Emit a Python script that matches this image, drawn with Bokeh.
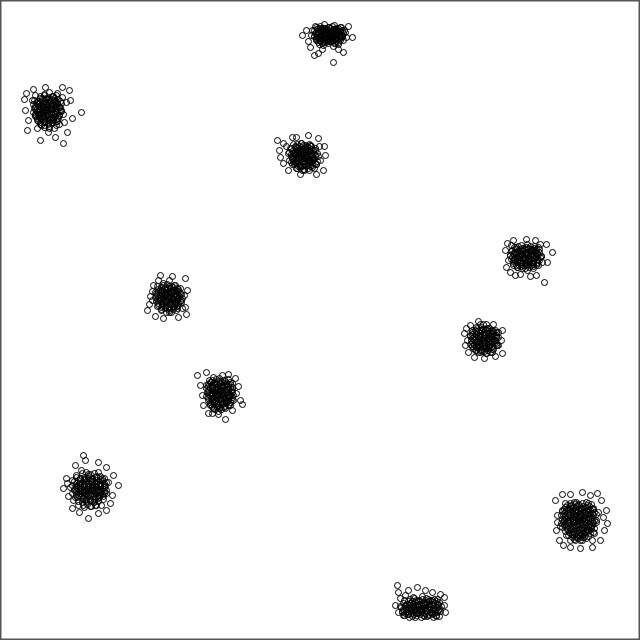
from bokeh.plotting import figure
from bokeh.models import Range1d, ColumnDataSource
from bokeh.embed import file_html
from bokeh.resources import INLINE

# Points (x right, y downward in picture units 0..640)
# --- spread points of each cluster ---
c1_x = [312,315,318,320,322,324,325,327,329,330,332,334,335,337,339,341,343,345,316,319,323,328,333,338,342,326,321,331,336,340,314,317,326,329,333,344,346,311,323,335,
        302,308,352,343,333,314,318,306,348,322,310,338]
c1_y = [30,26,33,28,38,24,31,36,27,41,33,25,38,30,35,27,40,32,40,44,45,43,46,44,36,29,34,37,34,31,36,37,40,32,29,30,37,35,42,43,
        35,41,37,52,62,55,53,30,26,49,47,49]

c2_x = [32,35,38,40,42,44,45,47,48,50,52,53,55,57,58,60,62,63,35,38,41,44,49,54,59,64,46,51,43,56,39,34,61,66,49,57,45,53,37,48,
        81,63,24,27,40,45,62,25,28,70,72,67,33,55,26,69]
c2_y = [100,95,104,98,110,94,104,115,99,108,120,96,112,103,118,107,97,114,115,121,125,118,126,128,124,122,110,113,103,106,112,108,110,102,92,93,122,104,128,132,
        112,143,99,130,140,87,87,110,120,100,118,132,89,137,93,90]

c3_x = [290,293,295,297,299,301,302,303,305,306,308,310,311,313,315,316,318,292,294,297,300,304,309,314,319,288,298,304,307,312,296,300,309,286,320,
        277,308,323,300,280,283,296,318,325,283,288,316,292,324,279]
c3_y = [148,144,152,147,158,143,152,162,148,156,165,145,153,160,150,164,156,158,164,168,166,170,170,168,146,153,153,157,151,157,160,149,161,146,160,
        140,135,170,174,157,143,137,138,155,163,170,174,137,146,150]

c4_x = [510,512,514,516,518,520,521,523,525,526,528,530,532,534,535,537,539,541,513,517,522,527,533,538,542,519,524,529,531,515,536,508,511,540,527,
        552,544,536,507,513,505,506,510,520,530,546,547,526,535,515]
c4_y = [255,250,260,247,254,262,245,251,258,265,248,255,262,246,252,259,249,256,265,267,268,270,268,265,262,257,254,259,250,253,255,260,245,244,244,
        252,282,275,243,240,250,267,272,274,276,244,262,239,240,275]

c5_x = [155,157,159,160,162,163,165,166,168,169,171,172,174,175,177,178,180,181,157,161,166,171,176,182,158,164,170,173,167,160,176,152,184,169,
        147,160,185,185,150,153,172,187,149,155,163,178,186,152]
c5_y = [292,286,298,290,304,283,295,301,288,307,293,299,285,304,291,298,288,302,306,310,312,312,310,308,280,292,296,290,298,296,296,300,295,280,
        310,275,278,307,296,285,276,290,304,316,318,317,314,291]

c6_x = [470,472,474,476,478,479,481,482,484,485,487,488,490,491,493,494,496,472,475,480,486,492,497,483,477,489,480,486,467,498,
        502,478,464,465,468,474,484,495,501,502,493,470,466]
c6_y = [335,330,340,327,336,345,330,339,334,348,328,342,335,347,331,340,337,346,350,352,353,352,345,343,341,338,324,324,340,332,
        353,321,333,345,352,357,358,356,340,330,324,325,328]

c7_x = [206,208,209,211,212,214,215,216,218,219,220,222,223,225,226,227,229,230,232,210,214,219,224,229,233,217,221,212,227,213,222,
        197,225,240,212,200,202,203,208,218,232,236,238,235,228,206,242]
c7_y = [385,392,380,398,388,383,395,404,389,378,399,385,393,381,402,389,396,384,392,405,409,408,407,404,400,393,391,394,395,377,375,
        375,419,400,413,385,395,405,413,414,410,393,386,378,374,372,404]

c8_x = [72,74,76,77,79,81,82,84,85,87,88,90,91,93,94,96,97,99,100,102,103,105,106,73,78,84,90,96,101,86,92,80,98,70,108,
        88,83,85,118,63,98,66,68,72,79,98,106,112,113,106,75,67,110]
c8_y = [480,490,475,497,484,470,492,480,500,487,474,494,481,502,489,476,496,484,491,478,499,486,493,500,505,507,506,505,505,490,486,488,490,487,482,
        518,455,460,485,488,462,478,496,508,512,513,510,495,475,467,465,483,503]

c9_x = [562,564,565,567,569,570,572,573,575,576,578,579,581,582,584,585,587,588,590,591,593,594,596,566,570,575,580,586,592,578,583,574,568,589,560,598,
        555,597,582,570,592,607,557,556,559,563,580,600,604,606,601,590,570,562,603,557]
c9_y = [510,520,503,528,515,506,534,522,511,502,527,517,508,537,521,512,530,503,518,526,509,533,520,535,540,540,540,538,540,520,524,516,522,514,526,512,
        500,493,492,547,547,523,515,530,540,545,548,540,530,510,500,495,494,494,517,522]

c10_x = [400,402,404,406,408,410,411,413,415,416,418,420,422,423,425,426,428,430,431,433,435,436,438,440,403,409,415,421,427,433,439,419,424,412,429,437,405,
         397,417,444,398,398,400,408,425,432,440,444,445,395]
c10_y = [606,612,600,608,614,603,610,597,606,613,601,609,596,615,604,611,599,607,613,602,609,615,604,611,615,617,617,617,616,617,616,605,608,606,604,599,595,
         585,587,597,612,592,598,590,590,592,594,605,612,605]

# --- dense core points of each cluster ---
k1_x = [316,320,324,328,332,336,340, 314,318,322,326,330,334,338,342, 315,319,323,327,331,335,339,343, 314,318,322,326,330,334,338,342, 316,320,324,328,332,336,340, 318,322,326,330,334,338, 317,321,325,329,333,337,341,323,327,335]
k1_y = [27,26,28,27,26,28,27, 30,31,30,29,31,30,31,30, 33,34,33,32,34,33,34,33, 36,37,36,35,37,36,37,36, 39,40,39,38,40,39,40, 42,43,42,41,43,42, 29,32,35,38,31,34,37,28,41,29]

k2_x = [40,44,48,52,56, 34,38,42,46,50,54,58, 33,37,41,45,49,53,57,61, 35,39,43,47,51,55,59, 33,37,41,45,49,53,57,61, 35,39,43,47,51,55,59, 37,41,45,49,53,57, 40,44,48,52,56, 47,43,51,38,55,49,44]
k2_y = [96,95,97,96,95, 100,101,100,99,101,100,99, 104,103,105,104,103,105,104,103, 108,109,108,107,109,108,107, 112,111,113,112,111,113,112,111, 116,117,116,115,117,116,115, 120,119,121,120,119,121, 124,125,124,123,125, 110,106,118,114,102,128,127]

k3_x = [297,301,305,309, 291,295,299,303,307,311,315, 289,293,297,301,305,309,313,317, 291,295,299,303,307,311,315, 289,293,297,301,305,309,313,317, 292,296,300,304,308,312,316, 296,300,304,308,312, 303,299,307,295,311,302]
k3_y = [144,143,145,144, 148,147,149,148,147,149,148, 152,153,152,151,153,152,151,153, 156,155,157,156,155,157,156, 160,161,160,159,161,160,159,161, 164,163,165,164,163,165,164, 168,167,169,168,167, 155,151,159,162,146,170]

k4_x = [514,518,522,526,530,534,538, 511,515,519,523,527,531,535,539, 510,514,518,522,526,530,534,538,541, 511,515,519,523,527,531,535,539, 513,517,521,525,529,533,537, 517,521,525,529,533, 524,520,528,532,516,536]
k4_y = [247,246,248,247,246,248,247, 251,252,251,250,252,251,250,252, 255,254,256,255,254,256,255,254,256, 259,260,259,258,260,259,258,260, 263,262,264,263,262,264,263, 267,266,268,267,266, 257,253,261,249,265,265]

k5_x = [163,167,171,175, 158,162,166,170,174,178, 156,160,164,168,172,176,180, 155,159,163,167,171,175,179,182, 156,160,164,168,172,176,180, 158,162,166,170,174,178, 161,165,169,173,177, 168,165,172,161,176,169]
k5_y = [285,284,286,285, 289,290,289,288,290,289, 293,292,294,293,292,294,293, 297,298,297,296,298,297,296,298, 301,300,302,301,300,302,301, 305,306,305,304,306,305, 309,308,310,309,308, 298,294,303,287,291,312]

k6_x = [477,481,485,489, 472,476,480,484,488,492,496, 470,474,478,482,486,490,494,498, 471,475,479,483,487,491,495, 470,474,478,482,486,490,494,498, 473,477,481,485,489,493, 478,482,486,490, 484,480,488,476,492,483]
k6_y = [328,327,329,328, 332,331,333,332,331,333,332, 336,337,336,335,337,336,335,337, 340,339,341,340,339,341,340, 344,345,344,343,345,344,343,345, 348,347,349,348,347,349, 352,351,353,352, 341,337,345,347,330,324]

k7_x = [212,216,220,224,228, 208,212,216,220,224,228,232, 206,210,214,218,222,226,230, 207,211,215,219,223,227,231, 206,210,214,218,222,226,230, 208,212,216,220,224,228,232, 210,214,218,222,226,230, 213,217,221,225, 219,215,223,211,227,218]
k7_y = [380,379,381,380,379, 384,385,384,383,385,384,383, 388,387,389,388,387,389,388, 392,393,392,391,393,392,391, 396,395,397,396,395,397,396, 400,401,400,399,401,400,399, 404,403,405,404,403,405, 408,407,409,408, 394,390,398,382,386,411]

k8_x = [82,86,90,94,98, 76,80,84,88,92,96,100,104, 74,78,82,86,90,94,98,102,106, 72,76,80,84,88,92,96,100,104, 74,78,82,86,90,94,98,102,106, 72,76,80,84,88,92,96,100,104, 75,79,83,87,91,95,99,103, 78,82,86,90,94,98, 83,87,91,95]
k8_y = [473,472,474,473,472, 477,478,477,476,478,477,476,478, 481,480,482,481,480,482,481,480,482, 485,486,485,484,486,485,484,486,485, 489,488,490,489,488,490,489,488,490, 493,494,493,492,494,493,492,494,493, 497,496,498,497,496,498,497,496, 501,502,501,500,502,501, 505,504,506,505]

k9_x = [570,574,578,582,586, 565,569,573,577,581,585,589,593, 562,566,570,574,578,582,586,590,594, 561,565,569,573,577,581,585,589,593,596, 562,566,570,574,578,582,586,590,594, 561,565,569,573,577,581,585,589,593,596, 562,566,570,574,578,582,586,590,594, 565,569,573,577,581,585,589,593, 568,572,576,580,584,588, 574,578,582]
k9_y = [503,502,504,503,502, 507,508,507,506,508,507,506,508, 511,510,512,511,510,512,511,510,512, 515,516,515,514,516,515,514,516,515,514, 519,518,520,519,518,520,519,518,520, 523,524,523,522,524,523,522,524,523,522, 527,526,528,527,526,528,527,526,528, 531,532,531,530,532,531,530,532, 535,534,536,535,534,536, 539,538,540]

k10_x = [410,414,418,422,426,430,434, 403,407,411,415,419,423,427,431,435,439, 401,405,409,413,417,421,425,429,433,437,441, 402,406,410,414,418,422,426,430,434,438, 404,408,412,416,420,424,428,432,436]
k10_y = [599,598,600,599,598,600,599, 603,604,603,602,604,603,602,604,603,602, 607,606,608,607,606,608,607,606,608,607,606, 611,612,611,610,612,611,610,612,611,610, 615,614,616,615,614,616,615,614,616]

# --- innermost points of each cluster ---
j1_x = [318,322,326,330,334,338, 316,320,324,328,332,336,340, 317,321,325,329,333,337,341, 316,320,324,328,332,336,340, 320,324,328,332,336]
j1_y = [28,28,29,28,29,28, 32,31,32,32,31,32,31, 35,35,34,35,35,34,35, 38,38,39,38,38,39,38, 41,41,40,41,41]

j2_x = [42,46,50,54, 36,40,44,48,52,56,60, 35,39,43,47,51,55,59, 36,40,44,48,52,56,60, 35,39,43,47,51,55,59, 37,41,45,49,53,57, 40,44,48,52,56]
j2_y = [98,98,99,98, 102,102,101,102,103,102,101, 106,106,107,106,105,106,107, 110,110,111,110,109,110,111, 114,114,115,114,113,114,115, 118,118,117,118,119,118, 122,122,123,122,121]

j3_x = [295,299,303,307,311, 293,297,301,305,309,313, 291,295,299,303,307,311,315, 293,297,301,305,309,313, 291,295,299,303,307,311,315, 298,302,306,310]
j3_y = [146,146,145,146,146, 150,150,149,150,151,150, 154,154,155,154,153,154,155, 158,158,157,158,159,158, 162,162,163,162,161,162,163, 166,166,165,166]

j4_x = [516,520,524,528,532,536, 513,517,521,525,529,533,537, 512,516,520,524,528,532,536,540, 513,517,521,525,529,533,537, 519,523,527,531]
j4_y = [249,249,248,249,250,249, 253,253,254,253,252,253,254, 257,257,256,257,258,257,256,257, 261,261,262,261,260,261,262, 265,265,264,265]

j5_x = [161,165,169,173,177, 158,162,166,170,174,178, 157,161,165,169,173,177,181, 157,161,165,169,173,177,181, 158,162,166,170,174,178, 161,165,169,173,177]
j5_y = [287,287,286,287,288, 291,291,292,291,290,291, 295,295,294,295,296,295,294, 299,299,300,299,298,299,300, 303,303,302,303,304,303, 307,307,308,307,306]

j6_x = [475,479,483,487,491,495, 472,476,480,484,488,492,496, 472,476,480,484,488,492,496, 472,476,480,484,488,492,496, 472,476,480,484,488,492,496, 476,480,484,488,492]
j6_y = [330,330,329,330,331,330, 334,334,335,334,333,334,335, 338,338,337,338,339,338,337, 342,342,343,342,341,342,343, 346,346,345,346,347,346,345, 350,350,351,350,349]

j7_x = [210,214,218,222,226,230, 208,212,216,220,224,228,232, 208,212,216,220,224,228,232, 209,213,217,221,225,229,233, 208,212,216,220,224,228,232, 210,214,218,222,226,230, 212,216,220,224,228]
j7_y = [382,382,381,382,383,382, 386,386,387,386,385,386,387, 390,390,389,390,391,390,389, 394,394,395,394,393,394,395, 398,398,397,398,399,398,397, 402,402,403,402,401,402, 406,406,407,406,405]

j8_x = [80,84,88,92,96,100, 76,80,84,88,92,96,100,104, 76,80,84,88,92,96,100,104, 76,80,84,88,92,96,100,104, 78,82,86,90,94,98,102, 82,86,90,94,98]
j8_y = [479,479,478,479,480,479, 483,483,484,483,482,483,484,483, 487,487,486,487,488,487,486,487, 491,491,492,491,490,491,492,491, 495,495,494,495,496,495,494, 499,499,500,499,498]

j9_x = [567,571,575,579,583,587,591, 564,568,572,576,580,584,588,592, 564,568,572,576,580,584,588,592, 564,568,572,576,580,584,588,592, 564,568,572,576,580,584,588,592, 564,568,572,576,580,584,588,592, 567,571,575,579,583,587,591, 570,574,578,582,586,590, 572,576,580,584]
j9_y = [505,505,504,505,506,505,504, 509,509,510,509,508,509,510,509, 513,513,512,513,514,513,512,513, 517,517,518,517,516,517,518,517, 521,521,520,521,522,521,520,521, 525,525,526,525,524,525,526,525, 529,529,528,529,530,529,528, 533,533,534,533,532,533, 537,537,536,537]

j10_x = [408,412,416,420,424,428,432,436, 405,409,413,417,421,425,429,433,437, 403,407,411,415,419,423,427,431,435,439, 405,409,413,417,421,425,429,433,437]
j10_y = [601,601,600,601,602,601,600,601, 605,605,606,605,604,605,606,605,604, 609,609,608,609,610,609,608,609,610,609, 613,613,614,613,612,613,614,613,612]

all_x = [c1_x, c2_x, c3_x, c4_x, c5_x, c6_x, c7_x, c8_x, c9_x, c10_x,
         k1_x, k2_x, k3_x, k4_x, k5_x, k6_x, k7_x, k8_x, k9_x, k10_x,
         j1_x, j2_x, j3_x, j4_x, j5_x, j6_x, j7_x, j8_x, j9_x, j10_x]
all_y = [c1_y, c2_y, c3_y, c4_y, c5_y, c6_y, c7_y, c8_y, c9_y, c10_y,
         k1_y, k2_y, k3_y, k4_y, k5_y, k6_y, k7_y, k8_y, k9_y, k10_y,
         j1_y, j2_y, j3_y, j4_y, j5_y, j6_y, j7_y, j8_y, j9_y, j10_y]
xs, ys = [], []
for ax, ay in zip(all_x, all_y):
    n = min(len(ax), len(ay))
    xs += ax[:n]
    ys += ay[:n]
src = ColumnDataSource(dict(x=xs, y=ys))

p = figure(width=640, height=640, output_backend="svg", toolbar_location=None,
           x_range=Range1d(0, 640), y_range=Range1d(640, 0), min_border=0)
p.axis.visible = False
p.grid.visible = False
p.outline_line_color = "#555555"
p.outline_line_width = 2
p.background_fill_color = "white"
p.border_fill_color = "white"

p.scatter("x", "y", source=src, marker="circle", size=6, fill_color=None,
          line_color="black", line_width=1)

open("out.html", "w").write(file_html(p, INLINE))
